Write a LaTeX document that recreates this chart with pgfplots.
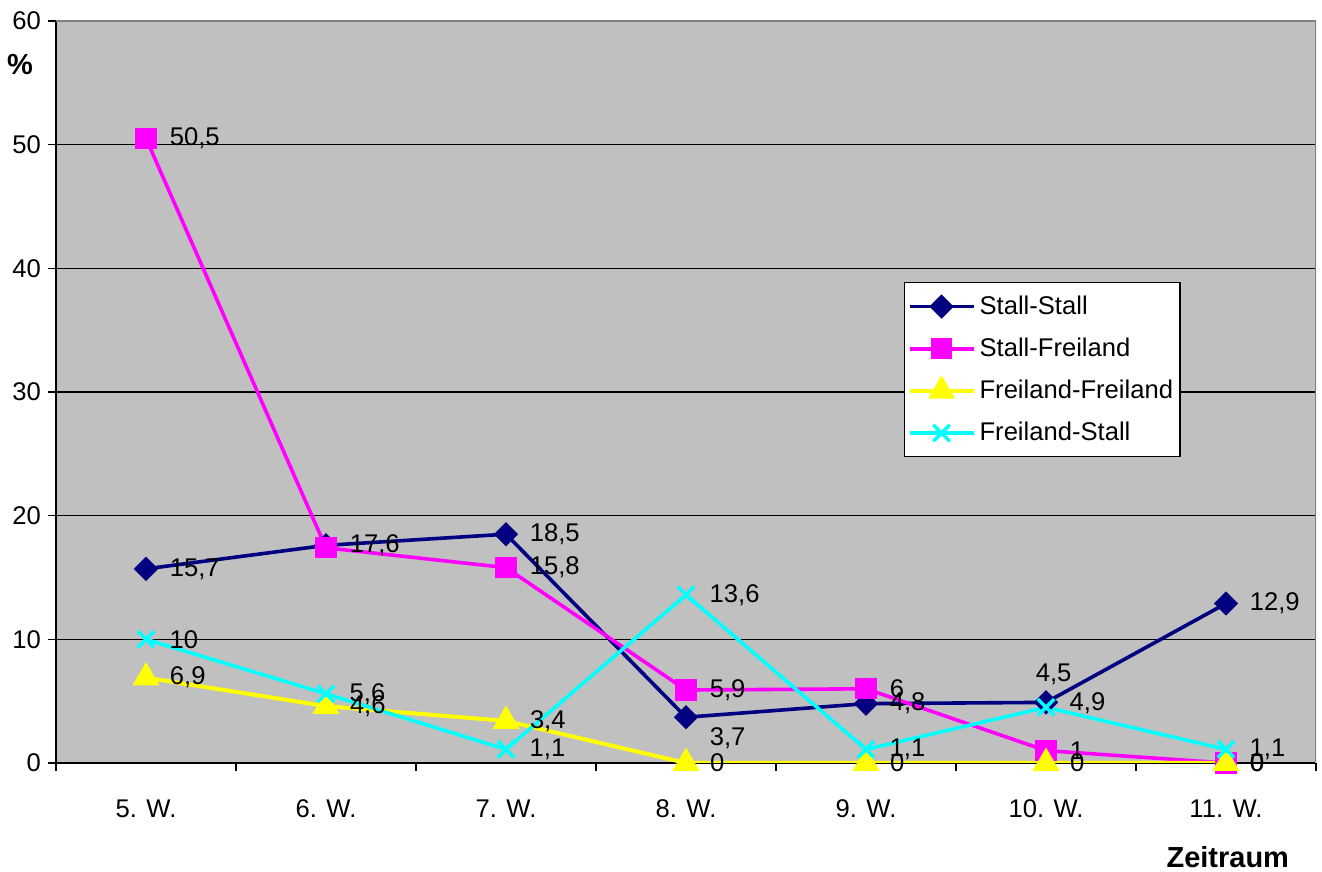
\documentclass[border=0pt]{standalone}
\usepackage{pgfplots}
\pgfplotsset{compat=1.18}
\usepackage{pgfplotstable}
\usepackage{fontspec}
\setmainfont{Liberation Sans}
\definecolor{bggray}{HTML}{C0C0C0}
\definecolor{sNavy}{HTML}{000080}
\definecolor{sMag}{HTML}{FF00FF}
\definecolor{sYel}{HTML}{FFFF00}
\definecolor{sCyan}{HTML}{00FFFF}

\pgfplotstableread{
x y lab dx dy
0 15.7 15,7 0 0
1 17.6 17,6 0 0
2 18.5 18,5 0 0
3 3.7 3,7 0 -10.5
4 4.8 4,8 0 0
5 4.9 4,5 -17 14
6 12.9 12,9 0 0
}\stallstall
\pgfplotstableread{
x y lab dx dy
0 50.5 50,5 0 0
1 17.4 {} 0 0
2 15.8 15,8 0 0
3 5.9 5,9 0 0
4 6.0 6 0 0
5 1.0 1 0 0
6 0 0 0 0
}\stallfrei
\pgfplotstableread{
x y lab dx dy
0 6.9 6,9 0 0
1 4.6 4,6 0 0
2 3.4 3,4 0 0
3 0 0 0 0
4 0 0 0 0
5 0 0 0 0
6 0 0 0 0
}\freifrei
\pgfplotstableread{
x y lab dx dy
0 10.0 10 0 0
1 5.6 5,6 0 0
2 1.1 1,1 0 0
3 13.6 13,6 0 0
4 1.1 1,1 0 0
5 4.5 4,9 0 2
6 1.1 1,1 0 0
}\freistall

\begin{document}
\begin{tikzpicture}[font=\fontsize{12.8pt}{15pt}\selectfont]
\useasboundingbox (0,0) rectangle (661pt,436pt);
\begin{axis}[
  at={(28pt,54.5pt)}, anchor=south west,
  scale only axis, width=630pt, height=371pt,
  xmin=-0.5, xmax=6.5, ymin=0, ymax=60,
  axis background/.style={fill=bggray},
  axis x line*=bottom, axis y line*=left,
  axis line style={-, black, line width=0.8pt},
  xtick={0,...,6},
  xticklabels={5. W.,6. W.,7. W.,8. W.,9. W.,10. W.,11. W.},
  minor xtick={-0.5,0.5,...,6.5},
  major x tick style={draw=none},
  minor tick length=4pt,
  xticklabel style={yshift=-11pt},
  ytick={0,10,...,60},
  major tick length=4pt,
  tick align=outside,
  tick style={black, line width=0.8pt},
  ymajorgrids,
  grid style={black, line width=0.7pt},
  /pgf/number format/assume math mode=true,
  xlabel={\fontsize{14.5pt}{17pt}\selectfont\textbf{Zeitraum}},
  xlabel style={at={(axis description cs:0.930,-0.1267)}, anchor=center},
  ylabel={\fontsize{14.5pt}{17pt}\selectfont\textbf{\%}},
  ylabel style={at={(axis description cs:-0.0286,0.9407)}, anchor=center, rotate=-90},
  legend style={at={(axis description cs:0.673,0.648)}, anchor=north west,
    draw=black, line width=0.6pt, fill=white, cells={anchor=west},
    row sep=6.3pt, inner xsep=1.5pt, inner ysep=4.5pt,
    font=\fontsize{12.8pt}{15pt}\selectfont},
  legend image code/.code={\draw[mark repeat=2,mark phase=2] plot coordinates {(0pt,0pt)(16pt,0pt)(32pt,0pt)};},
  nodes near coords,
  point meta=explicit symbolic,
  visualization depends on={\thisrow{dx} \as \dx},
  visualization depends on={\thisrow{dy} \as \dy},
  every node near coord/.append style={anchor=west, xshift={10+\dx}, yshift={\dy}, text=black, inner sep=1pt, font=\fontsize{12.8pt}{15pt}\selectfont},
]
\addplot[color=sNavy, line width=1.8pt, mark=square*, mark size=3.4pt, mark options={rotate=45, solid}] table[x=x,y=y,meta=lab] {\stallstall};
\addlegendentry{Stall-Stall}
\addplot[color=sMag, line width=1.8pt, mark=square*, mark size=4.4pt, mark options={solid}] table[x=x,y=y,meta=lab] {\stallfrei};
\addlegendentry{Stall-Freiland}
\addplot[color=sYel, line width=2pt, mark=triangle*, mark size=5.8pt, mark options={solid}] table[x=x,y=y,meta=lab] {\freifrei};
\addlegendentry{Freiland-Freiland}
\addplot[color=sCyan, line width=1.8pt, mark=x, mark size=5.8pt, mark options={solid, line width=1.7pt}] table[x=x,y=y,meta=lab] {\freistall};
\addlegendentry{Freiland-Stall}
\draw[gray, line width=0.9pt] (rel axis cs:0,1) -- (rel axis cs:1,1) -- (rel axis cs:1,0);
\end{axis}
\end{tikzpicture}
\end{document}
